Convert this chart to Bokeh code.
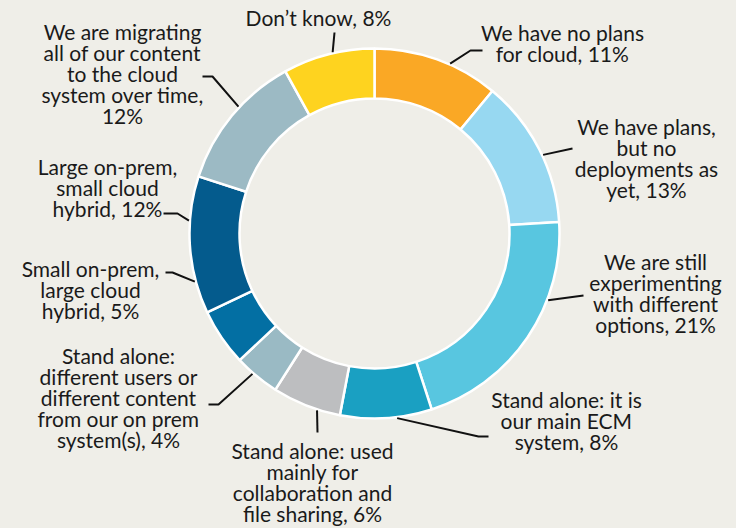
import math
from bokeh.plotting import figure
from bokeh.embed import file_html
from bokeh.resources import INLINE
from bokeh.core.properties import value
from bokeh.models import ColumnDataSource

# ---------------- data ----------------
categories = [
    "We have no plans for cloud",
    "We have plans, but no deployments as yet",
    "We are still experimenting with different options",
    "Stand alone: it is our main ECM system",
    "Stand alone: used mainly for collaboration and file sharing",
    "Stand alone: different users or different content from our on prem system(s)",
    "Small on-prem, large cloud hybrid",
    "Large on-prem, small cloud hybrid",
    "We are migrating all of our content to the cloud system over time",
    "Don\u2019t know",
]
values = [11, 13, 21, 8, 6, 4, 5, 12, 12, 8]
label_lines = [
    ["We have no plans", "for cloud, 11%"],
    ["We have plans,", "but no", "deployments as", "yet, 13%"],
    ["We are still", "experimenting", "with different", "options, 21%"],
    ["Stand alone: it is", "our main ECM", "system, 8%"],
    ["Stand alone: used", "mainly for", "collaboration and", "file sharing, 6%"],
    ["Stand alone:", "different users or", "different content", "from our on prem", "system(s), 4%"],
    ["Small on-prem,", "large cloud", "hybrid, 5%"],
    ["Large on-prem,", "small cloud", "hybrid, 12%"],
    ["We are migrating", "all of our content", "to the cloud", "system over time,", "12%"],
    ["Don\u2019t know, 8%"],
]

# ---------------- style / layout ----------------
colors = ["#FAA825", "#97D8F1", "#58C6E0", "#1AA0C2", "#BDBEC0",
          "#9ABAC4", "#036FA3", "#045B8D", "#9CBAC4", "#FED31F"]
BG = "#EFEEE8"
W, H = 736, 528
CX, CY = 374, 233          # page-pixel coords of the donut centre
R_OUT, R_IN = 185, 135
LINE_H = 21
FONT = "Lato"
FONT_SIZE = "21px"
label_centers = [(562, 42), (646, 157), (655, 292), (566, 420), (312, 481),
                 (118, 397), (90, 289), (107, 187), (122, 73), (318, 17)]
leader_nudge = [4.2, 2, -13.2, -3.4, -3.6, 1.4, 19.2, 7.6, 3.4, 1.4]
leader_tails = [
    [(470, 50), (482, 50)],
    [(572, 148)],
    [(583, 295)],
    [(478, 436), (488, 436)],
    [(317, 432)],
    [(218, 404), (208, 404)],
    [(172, 272), (165, 272)],
    [(177, 213), (163, 213)],
    [(212, 76), (202, 76)],
    [(334, 32)],
]


def Y(y):
    return H - y


p = figure(width=W, height=H, x_range=(0, W), y_range=(0, H),
           output_backend="svg", toolbar_location=None, min_border=0)
p.axis.visible = False
p.grid.visible = False
p.outline_line_color = None
p.background_fill_color = BG
p.border_fill_color = BG

total = float(sum(values))
starts, ends, mids = [], [], []
acc = 0.0
for v in values:
    a0 = acc / total * 2 * math.pi
    acc += v
    a1 = acc / total * 2 * math.pi
    starts.append(math.pi / 2 - a0)
    ends.append(math.pi / 2 - a1)
    mids.append((a0 + a1) / 2)

src = ColumnDataSource(dict(start=starts, end=ends, color=colors, cat=categories, val=values))
p.annular_wedge(x=CX, y=Y(CY), inner_radius=R_IN, outer_radius=R_OUT,
                start_angle="start", end_angle="end", direction="clock",
                fill_color="color", line_color="white", line_width=2.5, source=src)

# leader lines
for i, m in enumerate(mids):
    ang = m + math.radians(leader_nudge[i])
    x0 = CX + (R_OUT + 1) * math.sin(ang)
    y0 = CY - (R_OUT + 1) * math.cos(ang)
    xs = [x0] + [t[0] for t in leader_tails[i]]
    ys = [Y(y0)] + [Y(t[1]) for t in leader_tails[i]]
    p.line(xs, ys, line_color="#111111", line_width=2)

# labels
tx, ty, tt = [], [], []
for i, lines in enumerate(label_lines):
    cx, cy = label_centers[i]
    n = len(lines)
    for k, s in enumerate(lines):
        tx.append(cx)
        ty.append(Y(cy + (k - (n - 1) / 2) * LINE_H))
        tt.append(s)
p.text(x=tx, y=ty, text=tt, text_align="center", text_baseline="middle",
       text_font=value(FONT), text_font_size=FONT_SIZE, text_color="#1a1a1a")

html = file_html(p, INLINE, title="Cloud ECM")
html = html.replace("<body>", '<body style="background-color:%s;">' % BG)
open("out.html", "w").write(html)
